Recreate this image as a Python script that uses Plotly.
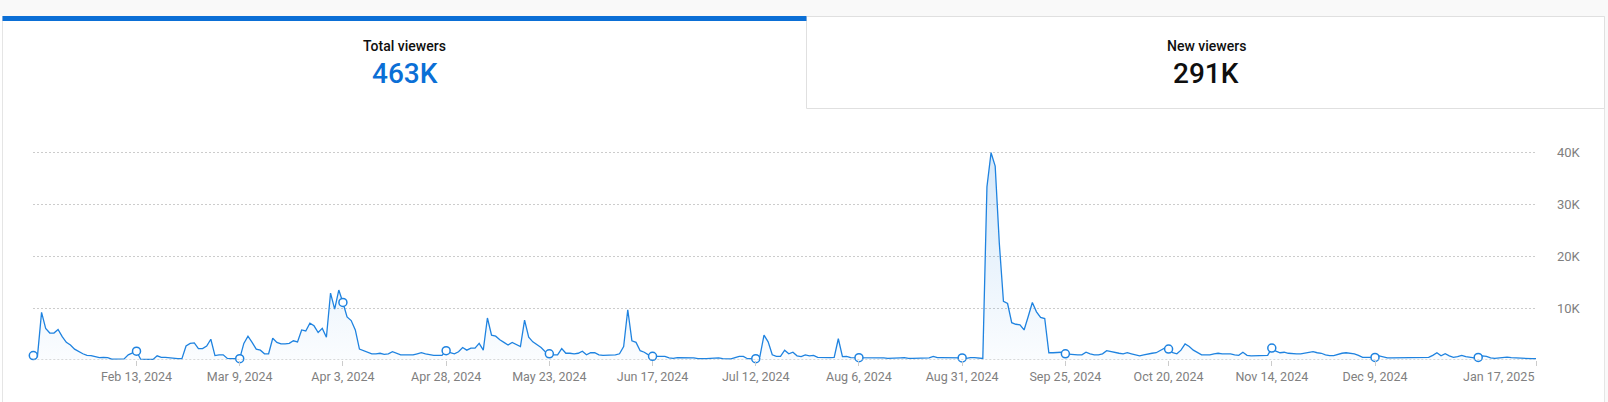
import pandas as pd
import plotly.graph_objects as go

# ---------------- data ----------------
start_date = "2024-01-19"
end_date = "2025-01-17"

views_part1 = [
    850, 650, 9200, 6100, 5200, 5200, 5900, 4500, 3400, 2900,
    2100, 1600, 1200, 900, 850, 650, 450, 500, 450, 150,
    150, 200, 200, 1000, 1400, 1700, 150, 100, 100, 100,
    800, 500, 500, 400, 300, 250, 250, 2700, 3200, 3300,
    2200, 2200, 2700, 4000, 850, 1000, 1000, 300, 250, 250,
    250, 3200, 4600, 3400, 2100, 1900, 1200, 1200, 4200, 3400,
    3100, 3100, 3200, 3700, 3500, 5800, 5600, 7100, 6600, 5300,
    6100, 4400, 12900,
]
views_part2 = [
    9800, 13500, 11100, 8300, 7600, 5800, 2100, 1800, 1400, 1200,
    1200, 1300, 1100, 1200, 1600, 1300, 1000, 1000, 1000, 1000,
    1200, 1400, 1200, 1000, 900, 900, 900, 1800, 1400, 1200,
    1600, 2400, 1900, 2300, 2300, 3200, 1900, 8100, 4800, 4600,
    3900, 3400, 2900, 3400, 3000, 2600, 7700, 4400, 3500, 3000,
    2400, 1600, 1200, 1000, 1000, 2200, 1300, 1300, 1200, 1300,
    1700, 1000, 1400, 1400, 1000, 900, 900, 1000, 1000, 1200,
    2600, 9700, 3700,
]
views_part3 = [
    3400, 1800, 1500, 1000, 700, 700, 700, 700, 400, 300,
    450, 450, 450, 400, 400, 250, 200, 250, 300, 300,
    400, 250, 200, 200, 450, 700, 700, 250, 250, 250,
    650, 4800, 3500, 1000, 700, 700, 1900, 1200, 1500, 800,
    650, 1000, 800, 900, 500, 450, 450, 450, 500, 4100,
    650, 700, 450, 450, 450, 500, 500, 500, 450, 400,
    400, 300, 300, 300, 400, 450, 300, 300, 300, 400,
    400, 400, 700,
]
views_part4 = [
    450, 450, 450, 450, 400, 400, 400, 300, 450, 450,
    400, 300, 33400, 40000, 37400, 22500, 11300, 10900, 7200, 6900,
    6800, 5800, 8400, 11100, 9300, 8200, 8000, 1400, 1400, 1400,
    1500, 1200, 1100, 1000, 1000, 1000, 1500, 1200, 1000, 1000,
    1200, 1800, 1600, 1400, 1300, 1200, 1400, 1200, 1000, 800,
    1000, 1200, 1300, 1400, 1800, 2300, 2100, 1400, 1200, 1900,
    3100, 2600, 1900, 1400, 1000, 1000, 1000, 1200, 1300, 1200,
    1200, 1200, 1000,
]
views_part5 = [
    900, 1500, 900, 800, 800, 850, 900, 900, 2300, 1700,
    1400, 1500, 1300, 1200, 1200, 1200, 1300, 1400, 1600, 1400,
    1300, 1000, 850, 850, 1100, 1300, 1400, 1300, 1200, 900,
    500, 500, 500, 500, 800, 650, 400, 400, 400, 400,
    400, 400, 400, 400, 400, 500, 500, 900, 1400, 800,
    1200, 800, 500, 650, 900, 650, 500, 400, 500, 800,
    700, 400, 300, 400, 450, 550, 450, 400, 300, 300,
    300, 250, 250,
]

marker_dates = [
    "2024-01-19", "2024-02-13", "2024-03-09", "2024-04-03", "2024-04-28",
    "2024-05-23", "2024-06-17", "2024-07-12", "2024-08-06", "2024-08-31",
    "2024-09-25", "2024-10-20", "2024-11-14", "2024-12-09", "2025-01-03",
]
tick_dates = [
    "2024-02-13", "2024-03-09", "2024-04-03", "2024-04-28", "2024-05-23",
    "2024-06-17", "2024-07-12", "2024-08-06", "2024-08-31", "2024-09-25",
    "2024-10-20", "2024-11-14", "2024-12-09",
]
tick_labels = [
    "Feb 13, 2024", "Mar 9, 2024", "Apr 3, 2024", "Apr 28, 2024", "May 23, 2024",
    "Jun 17, 2024", "Jul 12, 2024", "Aug 6, 2024", "Aug 31, 2024", "Sep 25, 2024",
    "Oct 20, 2024", "Nov 14, 2024", "Dec 9, 2024",
]
end_label = "Jan 17, 2025"
y_ticks = [10000, 20000, 30000, 40000]
y_tick_labels = ["10K", "20K", "30K", "40K"]
tab_titles = ["Total viewers", "New viewers"]
tab_values = ["463K", "291K"]

# ---------------- figure ----------------
views = views_part1 + views_part2 + views_part3 + views_part4 + views_part5
dates = pd.date_range(start_date, periods=len(views), freq="D")
series = pd.Series(views, index=dates)

W, H = 1608, 402


def fx(px):
    return px / W


def fy(py):
    return 1 - py / H


LINE_BLUE = "#1f83e0"
TAB_BLUE = "#0b6fd6"
FONT = "Roboto"
AXIS_GREY = "#808080"

# y axis geometry: 0 at 360px, 40K at 152.7px; small headroom so the top gridline shows
Y_MAX = 40600
px_per_unit = (360 - 152.7) / 40000
y_top_px = 360 - Y_MAX * px_per_unit

fig = go.Figure()
fig.add_trace(go.Scatter(
    x=dates, y=views, mode="lines",
    line=dict(color=LINE_BLUE, width=1.3),
    fill="tozeroy",
    fillgradient=dict(
        type="vertical",
        colorscale=[[0, "rgba(31,131,224,0.02)"], [1, "rgba(31,131,224,0.18)"]],
        start=0, stop=40000,
    ),
    hoverinfo="skip", showlegend=False,
))
mk = pd.to_datetime(marker_dates)
fig.add_trace(go.Scatter(
    x=mk, y=series.loc[mk].values, mode="markers",
    marker=dict(symbol="circle", size=8, color="white",
                line=dict(color=LINE_BLUE, width=1.5)),
    cliponaxis=False, hoverinfo="skip", showlegend=False,
))

shapes = [
    # page strip on top
    dict(type="rect", xref="paper", yref="paper", x0=0, x1=1, y0=fy(16), y1=1,
         fillcolor="#f9f9f9", line=dict(width=0), layer="below"),
    # right page edge
    dict(type="rect", xref="paper", yref="paper", x0=fx(1604.5), x1=1, y0=0, y1=1,
         fillcolor="#f9f9f9", line=dict(width=0), layer="below"),
    # card left border
    dict(type="line", xref="paper", yref="paper", x0=fx(2.5), x1=fx(2.5), y0=0, y1=fy(16),
         line=dict(color="#e5e5e5", width=1)),
    # card right border
    dict(type="line", xref="paper", yref="paper", x0=fx(1604.5), x1=fx(1604.5), y0=0, y1=fy(16),
         line=dict(color="#e5e5e5", width=1)),
    # unselected tab box
    dict(type="rect", xref="paper", yref="paper", x0=fx(806.5), x1=fx(1604.5),
         y0=fy(108.5), y1=fy(16.5), fillcolor="white", line=dict(color="#e0e0e0", width=1)),
    # selected tab indicator
    dict(type="rect", xref="paper", yref="paper", x0=fx(2.5), x1=fx(806.5),
         y0=fy(21), y1=fy(16), fillcolor=TAB_BLUE, line=dict(width=0)),
    # baseline
    dict(type="line", xref="x domain", yref="y", x0=0, x1=1, y0=0, y1=0,
         line=dict(color="#b5b5b5", width=1, dash="2px,2px")),
]

annotations = [
    dict(text=tab_titles[0], x=fx(405), y=fy(46), xref="paper", yref="paper",
         showarrow=False, xanchor="center", yanchor="middle",
         font=dict(family=FONT, size=14, color="#0f0f0f", weight=500)),
    dict(text=tab_values[0], x=fx(405), y=fy(74), xref="paper", yref="paper",
         showarrow=False, xanchor="center", yanchor="middle",
         font=dict(family=FONT, size=28, color=TAB_BLUE, weight=500)),
    dict(text=tab_titles[1], x=fx(1206), y=fy(46), xref="paper", yref="paper",
         showarrow=False, xanchor="center", yanchor="middle",
         font=dict(family=FONT, size=14, color="#0f0f0f", weight=500)),
    dict(text=tab_values[1], x=fx(1206), y=fy(74), xref="paper", yref="paper",
         showarrow=False, xanchor="center", yanchor="middle",
         font=dict(family=FONT, size=28, color="#0f0f0f", weight=500)),
    # end-of-range axis label (right aligned at the last tick)
    dict(text=end_label, x=end_date, y=0, xref="x", yref="y",
         showarrow=False, xanchor="right", yanchor="middle", yshift=-16,
         font=dict(family=FONT, size=12.5, color=AXIS_GREY)),
]

fig.update_layout(
    width=W, height=H,
    margin=dict(l=0, r=0, t=0, b=0, pad=0, autoexpand=False),
    paper_bgcolor="white", plot_bgcolor="rgba(0,0,0,0)",
    showlegend=False,
    shapes=shapes, annotations=annotations,
    xaxis=dict(
        domain=[fx(33.3), fx(1536)],
        range=[start_date, end_date],
        tickmode="array",
        tickvals=tick_dates + [end_date],
        ticktext=tick_labels + [""],
        ticks="outside", ticklen=5, tickcolor="#cccccc", tickwidth=1,
        showgrid=False, zeroline=False, showline=False,
        tickfont=dict(family=FONT, size=12.5, color=AXIS_GREY),
        fixedrange=True,
    ),
    yaxis=dict(
        domain=[42 / H, 1 - y_top_px / H],
        range=[0, Y_MAX],
        side="right",
        tickmode="array", tickvals=y_ticks, ticktext=y_tick_labels,
        showgrid=True, gridcolor="#cccccc", gridwidth=1, griddash="2px,2px",
        zeroline=False, showline=False, ticks="",
        ticklabelstandoff=20,
        tickfont=dict(family=FONT, size=13, color=AXIS_GREY),
        fixedrange=True,
    ),
)

fig.write_html(
    "out.html",
    config={"displayModeBar": False, "staticPlot": True},
    post_script="document.body.style.margin='0';document.body.style.overflow='hidden';",
)
